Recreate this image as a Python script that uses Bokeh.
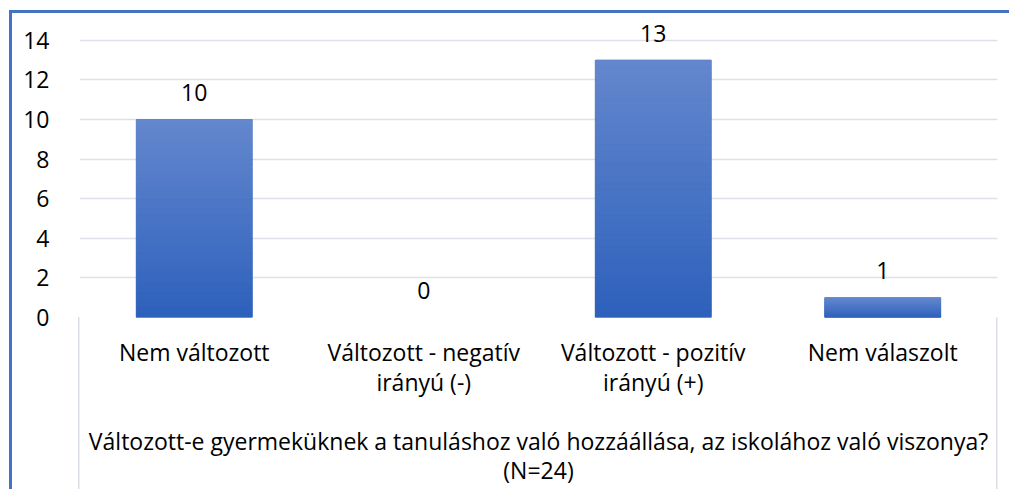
from bokeh.plotting import figure
from bokeh.embed import file_html
from bokeh.resources import INLINE
from bokeh.models import FactorRange, FixedTicker, ColumnDataSource
from bokeh.core.properties import value

categories = ["Nem változott", "Változott - negatív\nirányú (-)", "Változott - pozitív\nirányú (+)", "Nem válaszolt"]
counts = [10, 0, 13, 1]
y_ticks = [0, 2, 4, 6, 8, 10, 12, 14]
x_title = "Változott-e gyermeküknek a tanuláshoz való hozzáállása, az iskolához való viszonya?\n(N=24)"

FONT = "Open Sans"
FS = "23px"

p = figure(x_range=FactorRange(*categories, range_padding=0), y_range=(0, 15.0),
           frame_width=918, frame_height=297, output_backend="svg", toolbar_location=None,
           min_border_left=67, min_border_right=12, min_border_top=7, min_border_bottom=0)
# chart-area border (left/top visible) and the light box around the category axis area
p.styles = {"border-left": "3px solid #4472C4", "border-top": "3px solid #4472C4",
            "margin-left": "9px", "margin-top": "10px",
            "background-color": "white",
            "background-image": "linear-gradient(#d9dde5, #d9dde5), linear-gradient(#d9dde5, #d9dde5)",
            "background-position": "66px 304px, 984px 304px",
            "background-size": "1.5px 200px, 1.5px 200px",
            "background-repeat": "no-repeat"}
p.border_fill_color = None
p.outline_line_color = None
p.background_fill_color = "white"

# gradient bars: a solid base bar plus stacked stripes of each bar's value
p.vbar(x=categories, top=counts, width=0.505, fill_color="#4472c4", line_color=None)
N = 40
top_c = (99, 135, 205)
bot_c = (46, 97, 188)
xs, bots, tops, cols = [], [], [], []
for c, v in zip(categories, counts):
    if v <= 0:
        continue
    for i in range(N):
        t = i / (N - 1)
        col = tuple(int(round(bot_c[k] + (top_c[k] - bot_c[k]) * t)) for k in range(3))
        xs.append(c)
        bots.append(v * i / N)
        tops.append(v * (i + 1) / N)
        cols.append("#%02x%02x%02x" % col)
p.vbar(x=xs, bottom=bots, top=tops, width=0.505, fill_color=cols, line_color=cols, line_width=1)

src = ColumnDataSource(dict(x=categories, y=counts, t=[str(v) for v in counts]))
p.text(x="x", y="y", text="t", source=src, text_align="center", text_baseline="middle",
       y_offset=-27, text_font=value(FONT), text_font_size=FS, text_color="#000000")

p.yaxis.ticker = FixedTicker(ticks=y_ticks)
p.yaxis.axis_line_color = None
p.yaxis.major_tick_line_color = None
p.yaxis.minor_tick_line_color = None
p.yaxis.major_label_standoff = 24
p.yaxis.major_label_text_font = FONT
p.yaxis.major_label_text_font_size = FS
p.yaxis.major_label_text_color = "#000000"

ax = p.xaxis[0]
ax.axis_line_color = None
ax.major_tick_line_color = None
ax.major_label_standoff = 12
ax.major_label_text_font = FONT
ax.major_label_text_font_size = FS
ax.major_label_text_color = "#000000"
ax.major_label_text_line_height = 0.96
ax.axis_label = x_title
ax.axis_label_text_font = FONT
ax.axis_label_text_font_size = FS
ax.axis_label_text_font_style = "normal"
ax.axis_label_text_color = "#000000"
ax.axis_label_text_line_height = 0.9
ax.axis_label_standoff = 24

p.xgrid.grid_line_color = None
p.ygrid.grid_line_color = "#dde1e7"
p.ygrid.grid_line_width = 1.5

open("out.html", "w").write(file_html(p, INLINE))
